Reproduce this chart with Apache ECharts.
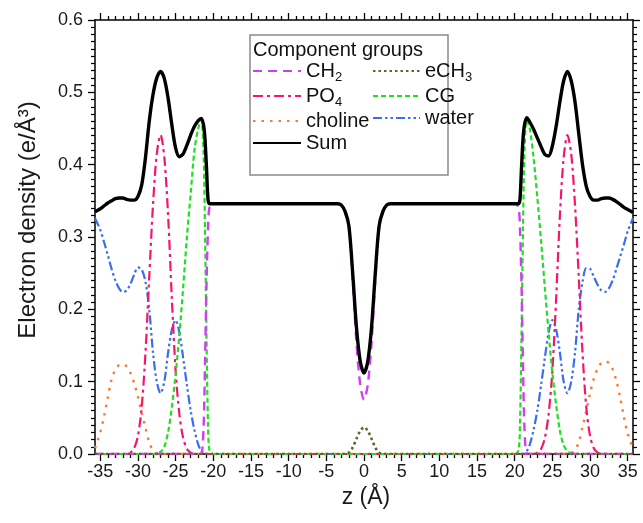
<!DOCTYPE html>
<html><head><meta charset="utf-8">
<script src="https://cdn.jsdelivr.net/npm/echarts@6/dist/echarts.min.js"></script>
<style>html,body{margin:0;padding:0;background:#fff}#c{width:643px;height:523px}</style>
</head><body><div id="c"></div>
<script>
const zValues = [-35.7,-35,-34.5,-34,-33.5,-33,-32.5,-32,-31.5,-31,-30.5,-30,-29.5,-29,-28.5,-28,-27.5,-27,-26.5,-26,-25.5,-25,-24.5,-24,-23.5,-23,-22.5,-22,-21.6,-21.3,-21.1,-20.9,-20.7,-20.5,-20,-15,-10,-5,-3.5,-3,-2.5,-2,-1.5,-1,-0.5,
 0,
 0.5,1,1.5,2,2.5,3,3.5,5,10,15,20,20.5,20.7,20.9,21.1,21.3,21.6,22,22.5,23,23.5,24,24.5,25,25.5,26,26.5,27,27.5,28,28.5,29,29.5,30,30.5,31,31.5,32,32.5,33,33.5,34,34.5,35,35.7];

const sumValues = [0.335,0.339,0.343,0.347,0.350,0.353,0.354,0.354,0.352,0.351,0.351,0.356,0.372,0.410,0.460,0.497,0.520,0.529,0.519,0.492,0.455,0.423,0.411,0.415,0.427,0.441,0.453,0.461,0.464,0.455,0.435,0.395,0.352,0.346,0.346,0.346,0.346,0.346,0.346,0.344,0.335,0.315,0.250,0.175,0.128,
 0.112,
 0.128,0.175,0.250,0.315,0.335,0.344,0.346,0.346,0.346,0.346,0.346,0.346,0.352,0.395,0.435,0.455,0.465,0.459,0.449,0.437,0.425,0.414,0.412,0.426,0.453,0.487,0.516,0.529,0.516,0.487,0.443,0.400,0.370,0.356,0.351,0.351,0.353,0.354,0.354,0.352,0.349,0.345,0.341,0.338,0.334];

const ch2Values = [0,0,0,0,0,0,0,0,0,0,0,0,0,0,0,0,0,0,0,0,0,0,0,0,0,0,0,0,0,
 0.035,0.125,0.235,0.312,0.341,0.346,0.346,0.346,0.346,0.346,0.344,0.335,0.313,0.241,0.154,0.096,
 0.075,
 0.096,0.154,0.241,0.313,0.335,0.344,0.346,0.346,0.346,0.346,0.346,0.341,0.312,0.235,0.125,0.035,
 0,0,0,0,0,0,0,0,0,0,0,0,0,0,0,0,0,0,0,0,0,0,0,0,0,0,0,0,0];

const ech3Values = [0,0,0,0,0,0,0,0,0,0,0,0,0,0,0,0,0,0,0,0,0,0,0,0,0,0,0,0,0,0,0,0,0,0,0,0,0,0,0,0,
 0,0.002,0.009,0.021,0.032,
 0.037,
 0.032,0.021,0.009,0.002,0,
 0,0,0,0,0,0,0,0,0,0,0,0,0,0,0,0,0,0,0,0,0,0,0,0,0,0,0,0,0,0,0,0,0,0,0,0,0,0,0,0];

const po4Values = [0,0,0,0,0,0,0,0,0,
 0.002,0.008,0.025,0.065,0.140,0.245,0.345,0.415,0.441,0.410,0.330,0.215,0.115,0.055,0.022,0.007,0.002,
 0,0,0,0,0,0,0,0,0,0,0,0,0,0,0,0,0,0,0,
 0,
 0,0,0,0,0,0,0,0,0,0,0,0,0,0,0,0,0,0,0,
 0.002,0.007,0.022,0.055,0.115,0.215,0.330,0.410,0.441,0.415,0.345,0.245,0.140,0.065,0.025,0.008,0.002,
 0,0,0,0,0,0,0,0,0];

const cgValues = [0,0,0,0,0,0,0,0,0,0,0,0,0,0,0,0,
 0.001,0.003,0.010,0.030,0.065,0.110,0.165,0.230,0.300,0.360,0.420,0.450,0.462,0.420,0.310,0.160,0.040,0.005,
 0,0,0,0,0,0,0,0,0,0,0,
 0,
 0,0,0,0,0,0,0,0,0,0,0,
 0.005,0.040,0.160,0.310,0.420,0.462,0.450,0.410,0.355,0.295,0.230,0.168,0.112,0.068,0.032,0.012,0.004,0.001,
 0,0,0,0,0,0,0,0,0,0,0,0,0,0,0,0];

const cholineValues = [0.008,0.030,0.052,0.078,0.103,0.117,0.123,0.124,0.121,0.112,0.098,0.079,0.057,0.036,0.016,0.005,0.001,
 0,0,0,0,0,0,0,0,0,0,0,0,0,0,0,0,0,0,0,0,0,0,0,0,0,0,0,0,
 0,
 0,0,0,0,0,0,0,0,0,0,0,0,0,0,0,0,0,0,0,0,0,0,0,0,0,0,0,0,
 0.001,0.006,0.016,0.037,0.060,0.084,0.104,0.118,0.126,0.128,0.126,0.117,0.101,0.078,0.051,0.028,0.008];

const waterValues = [0.326,0.310,0.293,0.275,0.256,0.240,0.229,0.224,0.226,0.235,0.248,0.258,0.255,0.238,0.200,0.140,0.100,0.084,0.100,0.140,0.172,0.185,0.168,0.133,0.095,0.060,0.033,0.013,0.004,0.001,
 0,0,0,0,0,0,0,0,0,0,0,0,0,0,0,
 0,
 0,0,0,0,0,0,0,0,0,0,0,0,0,0,0,
 0.001,0.004,0.013,0.033,0.060,0.095,0.133,0.168,0.185,0.172,0.140,0.100,0.084,0.100,0.140,0.200,0.238,0.257,0.256,0.245,0.234,0.226,0.224,0.229,0.240,0.256,0.273,0.290,0.308,0.326];

const xTickLabels = [-35,-30,-25,-20,-15,-10,-5,0,5,10,15,20,25,30,35];
const yTickLabels = [0.0,0.1,0.2,0.3,0.4,0.5,0.6];

const FONT = "'Liberation Sans', Arial, Helvetica, sans-serif";
const xMin = -35.7, xMax = 35.7;
const minorX = [];
for (let v = -35; v <= 35; v++) { if (v % 5 !== 0) minorX.push(v); }

function pairs(arr){ return zValues.map((z,i)=>[z, arr[i]]); }

const seriesDefs = [
  {name:'water',  data: waterValues,   color:'#3a6cf4', type:[9,3,2.5,3,2.5,3], width:2.2},
  {name:'choline',data: cholineValues, color:'#fb7a2b', type:[2.5,6], width:2.4},
  {name:'PO4',    data: po4Values,     color:'#f5166b', type:[10,4,3,4], width:2.2},
  {name:'CG',     data: cgValues,      color:'#1fe01f', type:[5,3], width:2.2},
  {name:'CH2',    data: ch2Values,     color:'#d23cf5', type:[9,6], width:2.4},
  {name:'eCH3',   data: ech3Values,    color:'#66622a', type:[2.5,3], width:2.6},
  {name:'Sum',    data: sumValues,     color:'#000000', type:'solid', width:3.4}
];

const legendNames = {CH2:'{a|CH}{b|2}', PO4:'{a|PO}{b|4}', eCH3:'{a|eCH}{b|3}', CG:'{a|CG}', choline:'{a|choline}', water:'{a|water}', Sum:'{a|Sum}'};
const legendText = {
  fontSize: 20, color:'#111', fontFamily: FONT,
  rich: {
    a: {fontSize: 20, lineHeight: 26, fontFamily: FONT, color:'#111'},
    b: {fontSize: 13, lineHeight: 12, verticalAlign: 'bottom', fontFamily: FONT, color:'#111'}
  }
};

function xAxisDef(pos, major, labels){
  return {
    type:'value', position: pos, min: xMin, max: xMax,
    axisLine: {show: major, onZero:false, lineStyle:{color:'#000', width:1.5}},
    axisTick: {show:true, customValues: major ? xTickLabels : minorX, length: major ? 7 : 4, inside:false, lineStyle:{color:'#000', width:1.3}},
    axisLabel: {show: labels, customValues: xTickLabels, fontSize:18, margin:9, color:'#1a1a1a', fontFamily: FONT},
    splitLine: {show:false}, minorTick:{show:false}
  };
}
function yAxisDef(pos, labels){
  return {
    type:'value', position: pos, min: 0, max: 0.6, interval: 0.1,
    axisLine: {show:true, onZero:false, lineStyle:{color:'#000', width:1.5}},
    axisTick: {show:true, length:7, inside:false, lineStyle:{color:'#000', width:1.3}},
    minorTick: {show:true, splitNumber:10, length:4, lineStyle:{color:'#000', width:1.2}},
    axisLabel: {show: labels, fontSize:18, margin:12, color:'#1a1a1a', fontFamily: FONT, formatter: v => v.toFixed(1)},
    splitLine: {show:false}
  };
}

const legendCommon = {orient:'vertical', top: 61, itemGap: 2, itemHeight: 14, padding: 0, selectedMode: false,
  itemStyle: {opacity: 0, borderWidth: 0}, formatter: n => legendNames[n], textStyle: legendText};

const chart = echarts.init(document.getElementById('c'), null, {renderer:'canvas'});
chart.setOption({
  animation: false,
  backgroundColor: '#fff',
  grid: {left: 95, right: 10, top: 20, bottom: 69, containLabel: false},
  xAxis: [xAxisDef('bottom', true, true), xAxisDef('bottom', false, false), xAxisDef('top', true, false), xAxisDef('top', false, false)],
  yAxis: [yAxisDef('left', true), yAxisDef('right', false)],
  legend: [
    Object.assign({}, legendCommon, {left: 252, itemWidth: 48, data: ['CH2','PO4','choline','Sum']}),
    Object.assign({}, legendCommon, {left: 372, itemWidth: 47, data: ['eCH3','CG','water']})
  ],
  graphic: [
    {type:'rect', z: 1, shape:{x:250, y:35, width:198, height:140}, style:{fill:'#fff', stroke:'#8a8a8a', lineWidth:1.5}},
    {type:'text', z: 5, x: 253, y: 50, style:{text:'Component groups', fontSize: 20, fontFamily: FONT, fill:'#111', align:'left', verticalAlign:'middle'}},
    {type:'text', z: 5, x: 28, y: 220, rotation: Math.PI/2, style:{text:'Electron density (e/Å³)', fontSize: 24, fontFamily: FONT, fill:'#1a1a1a', align:'center', verticalAlign:'middle'}},
    {type:'text', z: 5, x: 366, y: 498, style:{text:'z (Å)', fontSize: 23, fontFamily: FONT, fill:'#1a1a1a', align:'center', verticalAlign:'middle'}}
  ],
  series: seriesDefs.map(s => ({
    name: s.name, type:'line', xAxisIndex:0, yAxisIndex:0,
    data: pairs(s.data), showSymbol:false, symbol:'none', smooth: 0.3,
    color: s.color,
    lineStyle: {color: s.color, width: s.width, type: s.type, cap: 'butt'},
    emphasis: {disabled: true}
  }))
});
</script></body></html>
